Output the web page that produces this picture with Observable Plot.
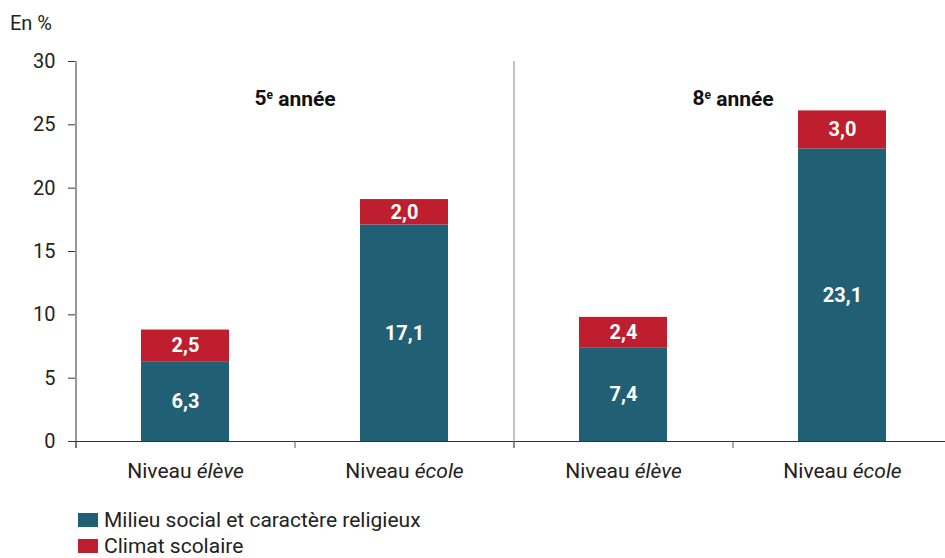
<!DOCTYPE html>
<html><head><meta charset="utf-8">
<script src="https://cdn.jsdelivr.net/npm/d3@7"></script>
<script src="https://cdn.jsdelivr.net/npm/@observablehq/plot@0.6"></script>
<style>
body{margin:0;background:#fff;font-family:Roboto, sans-serif;}
#wrap{position:relative;width:945px;height:558px;overflow:hidden;}
#unit{position:absolute;left:10px;top:11px;font-size:20px;color:#222}
#chart{position:absolute;left:0;top:0}
#legend{position:absolute;left:78px;top:507px;font-size:21px;line-height:22px;color:#222}
.row{display:flex;align-items:center;height:26px}
.sw{width:20px;height:14px;margin-right:6px}
</style></head><body>
<div id="wrap"><div id="chart"></div><div id="unit">En %</div><div id="legend"></div></div>
<script>
const grades = ["5e année", "8e année"];
const levels = ["Niveau élève", "Niveau école"];
const series = ["Milieu social et caractère religieux", "Climat scolaire"];
const colors = ["#216074", "#be1e2d"];
const milieu = [6.3, 17.1, 7.4, 23.1];
const climat = [2.5, 2.0, 2.4, 3.0];
const yTicks = [0, 5, 10, 15, 20, 25, 30];

const keys = [];
grades.forEach(g => levels.forEach(l => keys.push(g + "|" + l)));
const rows = [];
keys.forEach((k, i) => {
  rows.push({key: k, serie: series[0], value: milieu[i]});
  rows.push({key: k, serie: series[1], value: climat[i]});
});
const fmt = v => v.toFixed(1).replace(".", ",");
const W = 945, ML = 75, MR = -6;
const step = (W - ML - MR) / keys.length;
const firstOfGroup = grades.map(g => g + "|" + levels[0]);

const plot = Plot.plot({
  width: W, height: 500,
  marginLeft: ML, marginRight: MR, marginTop: 61, marginBottom: 59,
  style: {fontFamily: "Roboto, sans-serif", fontSize: "20px", color: "#222", background: "#fff"},
  x: {domain: keys, paddingInner: 0.6, paddingOuter: 0.3, axis: null},
  y: {domain: [0, 30], axis: null},
  color: {domain: series, range: colors},
  marks: [
    Plot.barY(rows, Plot.stackY({x: "key", y: "value", fill: "serie"})),
    Plot.text(rows, Plot.stackY({x: "key", y: "value", text: d => fmt(d.value), fill: "white", fontWeight: "bold", fontSize: 20})),
    Plot.axisY({ticks: yTicks, tickSize: 7, tickPadding: 13, label: null, stroke: "#333", fill: "#222", fontSize: 20}),
    Plot.axisX({tickSize: 0, tickPadding: 22, label: null, fill: "#222", fontSize: 21, tickFormat: k => k.split("|")[1]}),
    Plot.ruleY([0], {stroke: "#333"}),
    // y axis line
    Plot.ruleX([keys[0]], {x: d => d, dx: -step / 2, y1: 30, y2: 0, insetBottom: -7, stroke: "#333"}),
    // group separator
    Plot.ruleX([firstOfGroup[1]], {x: d => d, dx: -step / 2, y1: 30, y2: 0, insetBottom: -7, stroke: "#888"}),
    // band boundary ticks
    Plot.ruleX(keys, {x: d => d, dx: -step / 2, y1: 0, y2: 0, insetBottom: -7, stroke: "#555"}),
    Plot.text(grades, {x: g => g + "|" + levels[1], dx: -step / 2, frameAnchor: "top", lineAnchor: "middle", dy: 37, text: d => d, fontWeight: "bold", fontSize: 21, fill: "#111"})
  ]
});
document.getElementById("chart").appendChild(plot);

// rich text: superscript and italic
d3.select(plot).selectAll("text").each(function() {
  const t = this.textContent;
  let m = t.match(/^(\d+)(e)( .*)$/);
  if (m && grades.includes(t)) {
    const s = d3.select(this); s.text(null);
    s.append("tspan").text(m[1]);
    s.append("tspan").attr("font-size", "12px").attr("dy", "-0.5em").text(m[2]);
    s.append("tspan").attr("dy", "0.3em").text(m[3]);
    return;
  }
  m = t.match(/^(Niveau )(.*)$/);
  if (m) {
    const s = d3.select(this); s.text(null);
    s.append("tspan").text(m[1]);
    s.append("tspan").attr("font-style", "italic").text(m[2]);
  }
});

const lg = d3.select("#legend");
series.forEach((s, i) => {
  const r = lg.append("div").attr("class", "row");
  r.append("div").attr("class", "sw").style("background", colors[i]);
  r.append("span").text(s);
});
</script>
</body></html>
